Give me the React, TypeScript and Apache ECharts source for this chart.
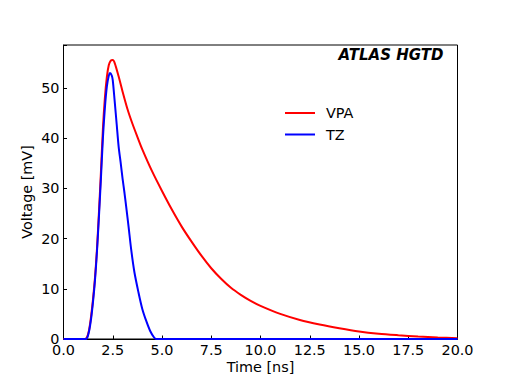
import React, { useEffect, useRef } from "react";
import * as echarts from "echarts";

const vpaTime = [0, 1.0, 1.1, 1.2, 1.3, 1.4, 1.5, 1.6, 1.7, 1.8, 1.9, 2.0, 2.1, 2.2, 2.3, 2.4, 2.5, 2.6, 2.8, 3.0, 3.25, 3.5, 3.75, 4.0, 4.5, 5.0, 5.5, 6.0, 6.5, 7.0, 7.5, 8.0, 8.5, 9.0, 9.5, 10.0, 11.0, 12.0, 13.0, 14.0, 15.0, 16.0, 17.0, 18.0, 19.0, 20.0];
const vpaValues = [0, 0, 0, 0.4, 1.8, 4.5, 8.0, 12.3, 18.0, 25.3, 33.3, 41.8, 48.0, 52.2, 54.6, 55.5, 55.6, 55.0, 52.3, 49.3, 45.8, 42.9, 40.3, 37.8, 33.4, 29.5, 25.8, 22.4, 19.4, 16.6, 14.1, 12.0, 10.2, 8.8, 7.6, 6.6, 5.0, 3.8, 2.9, 2.15, 1.5, 1.05, 0.75, 0.5, 0.3, 0.15];

const tzTime = [0, 1.1, 1.2, 1.3, 1.4, 1.5, 1.6, 1.7, 1.8, 1.9, 2.0, 2.1, 2.2, 2.3, 2.36, 2.45, 2.5, 2.6, 2.7, 2.8, 2.9, 3.0, 3.1, 3.2, 3.3, 3.44, 3.6, 3.8, 4.0, 4.2, 4.4, 4.6, 4.7, 20.0];
const tzValues = [0, 0, 0.2, 1.6, 4.0, 7.5, 11.8, 17.5, 24.5, 32.0, 40.0, 46.0, 50.3, 52.5, 53.0, 52.5, 51.6, 47.3, 42.8, 38.3, 35.2, 31.9, 29.0, 25.8, 22.5, 17.7, 13.3, 9.4, 6.0, 3.6, 1.6, 0.3, 0, 0];

const seriesNames = ["VPA", "TZ"];
const seriesColors = ["#ff0000", "#0000ff"];
const xRange = [0, 20];
const xStep = 2.5;
const yRange = [0, 58.6];
const yStep = 10;
const xTitle = "Time [ns]";
const yTitle = "Voltage [mV]";
const tagText = "ATLAS HGTD";

const FONT = "DejaVu Sans";

export default function App() {
  const ref = useRef<HTMLDivElement>(null);
  useEffect(() => {
    if (!ref.current) return;
    const chart = echarts.init(ref.current, null, { renderer: "svg" });
    const pairs = (ts: number[], vs: number[]) => ts.map((t, i) => [t, vs[i]]);
    chart.setOption({
      animation: false,
      backgroundColor: "#ffffff",
      textStyle: { fontFamily: FONT },
      grid: {
        left: 63.5,
        right: 50.5,
        top: 45,
        bottom: 42,
        show: true,
        borderColor: "#000",
        borderWidth: 1,
        backgroundColor: "transparent",
      },
      legend: {
        orient: "vertical",
        left: 285,
        top: 106,
        padding: 0,
        icon: "rect",
        itemWidth: 30,
        itemHeight: 2,
        itemGap: 7.5,
        textStyle: { fontFamily: FONT, fontSize: 14.4, color: "#000", padding: [0, 0, 0, 6] },
        data: seriesNames.map((n, i) => ({ name: n, itemStyle: { color: seriesColors[i] } })),
      },
      xAxis: {
        type: "value",
        min: xRange[0],
        max: xRange[1],
        interval: xStep,
        name: xTitle,
        nameLocation: "middle",
        nameGap: 21,
        nameMoveOverlap: false,
        nameTextStyle: { fontFamily: FONT, fontSize: 14.4, color: "#000" },
        axisLine: { show: true, lineStyle: { color: "#000", width: 1 } },
        axisTick: { show: true, inside: true, length: 3.5, lineStyle: { color: "#000" } },
        axisLabel: {
          margin: 4,
          fontFamily: FONT,
          fontSize: 14.4,
          color: "#000",
          formatter: (v: number) => v.toFixed(1),
        },
        splitLine: { show: false },
      },
      yAxis: {
        type: "value",
        min: yRange[0],
        max: yRange[1],
        interval: yStep,
        name: yTitle,
        nameLocation: "middle",
        nameGap: 30,
        nameMoveOverlap: false,
        nameTextStyle: { fontFamily: FONT, fontSize: 14.4, color: "#000" },
        axisLine: { show: true, lineStyle: { color: "#000", width: 1 } },
        axisTick: { show: true, inside: true, length: 3.5, lineStyle: { color: "#000" } },
        axisLabel: {
          margin: 4,
          fontFamily: FONT,
          fontSize: 14.4,
          color: "#000",
          formatter: (v: number) => (Math.abs(v % yStep) < 1e-6 ? String(v) : ""),
        },
        splitLine: { show: false },
      },
      graphic: [
        {
          type: "text",
          x: 443.5,
          y: 54.5,
          style: {
            text: tagText,
            fontFamily: FONT,
            fontSize: 15,
            fontWeight: "bold",
            fontStyle: "italic",
            fill: "#000",
            align: "right",
            verticalAlign: "middle",
          },
        },
      ],
      series: [
        {
          name: seriesNames[0],
          type: "line",
          data: pairs(vpaTime, vpaValues),
          showSymbol: false,
          symbol: "none",
          smooth: 0.3,
          lineStyle: { color: seriesColors[0], width: 2 },
          itemStyle: { color: seriesColors[0] },
          z: 2,
        },
        {
          name: seriesNames[1],
          type: "line",
          data: pairs(tzTime, tzValues),
          showSymbol: false,
          symbol: "none",
          smooth: 0.3,
          lineStyle: { color: seriesColors[1], width: 2 },
          itemStyle: { color: seriesColors[1] },
          z: 3,
        },
      ],
    });
    return () => chart.dispose();
  }, []);
  return (
    <div
      ref={ref}
      style={{ position: "fixed", left: 0, top: 0, width: 508, height: 381 }}
    />
  );
}
